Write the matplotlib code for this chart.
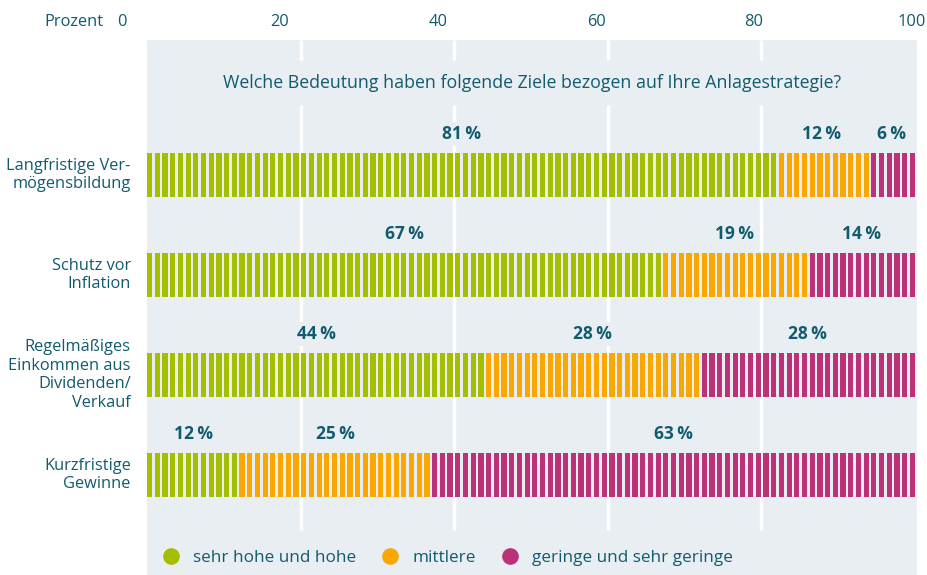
import matplotlib
matplotlib.use("Agg")
import matplotlib.pyplot as plt
from matplotlib.lines import Line2D
import numpy as np

plt.rcParams["font.family"] = ["Open Sans", "DejaVu Sans"]

# data
categories = ["Langfristige Ver-\nmögensbildung",
              "Schutz vor\nInflation",
              "Regelmäßiges\nEinkommen aus\nDividenden/\nVerkauf",
              "Kurzfristige\nGewinne"]
sehr_hoch = [81, 67, 44, 12]
mittel = [12, 19, 28, 25]
gering = [6, 14, 28, 63]
series_names = ["sehr hohe und hohe", "mittlere", "geringe und sehr geringe"]
ticks = [0, 20, 40, 60, 80, 100]
title = "Welche Bedeutung haben folgende Ziele bezogen auf Ihre Anlagestrategie?"

# styles
colors = ["#A6BE00", "#F8A800", "#BB3278"]
text_col = "#115B6F"
panel_col = "#E9EEF2"

W, H = 927, 575
fig = plt.figure(figsize=(W / 100, H / 100), dpi=100)

# main axes = grey panel, 0..100 maps to px 147..915
ax = fig.add_axes([147 / W, 0, (917 - 147) / W, (H - 40) / H])
ax.set_facecolor(panel_col)
ax.set_xlim(0, 100 * (917 - 147) / (915 - 147))
ax.set_ylim(4.0, -1.35)
for s in ax.spines.values():
    s.set_visible(False)
ax.set_xticks([])
ax.set_yticks([])

# white grid lines, interrupted behind the title
grid_x = ticks[1:-1]
ax.vlines(grid_x, -1.35, -1.15, color="white", lw=2.5, zorder=1)
ax.vlines(grid_x, -0.70, 3.55, color="white", lw=2.5, zorder=1)

ax.text(50.2, -0.92, title, ha="center", va="center", fontsize=12.8,
        color=text_col)

# striped bars: one stripe per percent
rows = np.array([sehr_hoch, mittel, gering], dtype=float).T
stripe_w = 0.68
step = (100 - stripe_w) / 99
bar_h = 0.44
for r, vals in enumerate(rows):
    cum = np.cumsum(vals / vals.sum() * 100)
    starts = np.concatenate([[0], cum[:-1]])
    for i in range(100):
        k = int(np.searchsorted(cum, i + 0.5))
        ax.barh(r, stripe_w, left=i * step, height=bar_h,
                color=colors[k], edgecolor="none", zorder=2)
    for k, v in enumerate(vals):
        xc = (starts[k] + cum[k]) / 2
        ax.text(xc, r - 0.41, f"{int(v)}\u2009%", ha="center", va="center",
                fontsize=12.5, fontweight="bold", color=text_col, zorder=3,
                bbox=dict(boxstyle="square,pad=0.15", fc=panel_col, ec="none"))
    ax.text(-2.1, r, categories[r], ha="right", va="center", fontsize=11.8,
            color=text_col, linespacing=1.2, clip_on=False)

# legend
handles = [Line2D([], [], marker="o", ls="none", markersize=12,
                  markerfacecolor=c, markeredgecolor="none") for c in colors]
ax.legend(handles, series_names, loc="center left", bbox_to_anchor=(-0.007, 0.032),
          ncol=3, frameon=False, fontsize=12.3, handletextpad=0.3,
          columnspacing=1.0, labelcolor=text_col, borderaxespad=0.3)

# top scale (labels are spread a bit wider than the panel)
ax2 = fig.add_axes([122 / W, (H - 30) / H, (912 - 122) / W, 16 / H])
ax2.set_xlim(0, 100)
ax2.set_ylim(0, 1)
ax2.axis("off")
for t in ticks:
    ax2.text(t, 0.5, str(t), ha="center", va="center", fontsize=11.8,
             color=text_col)
ax2.text(-2.4, 0.5, "Prozent", ha="right", va="center", fontsize=11.8,
         color=text_col, clip_on=False)

fig.savefig("out.png", dpi=100)
